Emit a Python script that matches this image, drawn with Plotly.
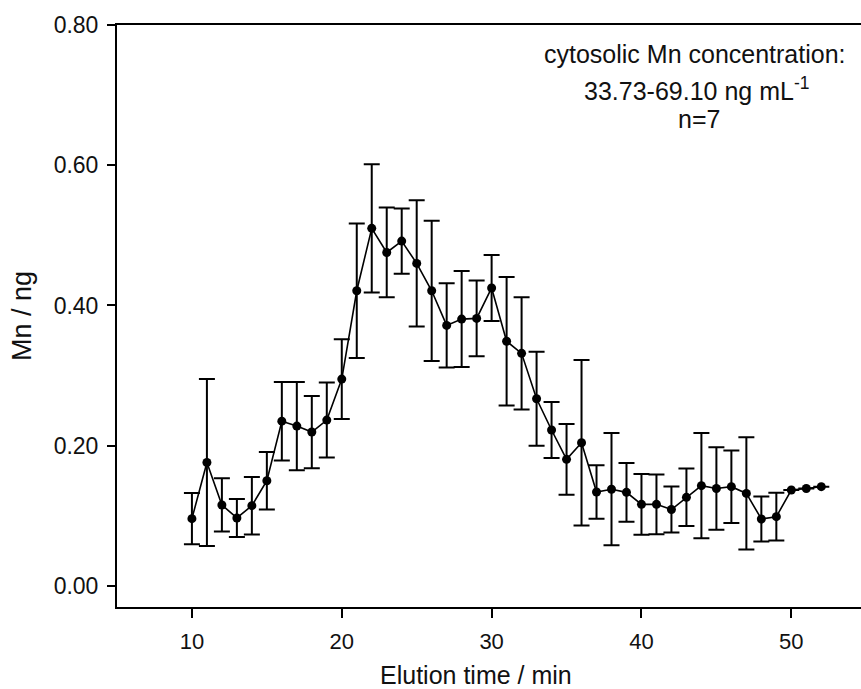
import plotly.graph_objects as go

# Elution time (min)
time_min = list(range(10, 53))
# Mean Mn (ng)
mn_mean = [0.096, 0.176, 0.1155, 0.097, 0.1145, 0.150, 0.235, 0.228, 0.2195, 0.2366,
           0.295, 0.421, 0.510, 0.4756, 0.4918, 0.460, 0.421, 0.3716, 0.3806, 0.3816,
           0.425, 0.349, 0.3317, 0.267, 0.2224, 0.1806, 0.2043, 0.134, 0.138, 0.1335,
           0.1164, 0.1164, 0.109, 0.1264, 0.143, 0.139, 0.1416, 0.132, 0.0955, 0.0988,
           0.1368, 0.139, 0.1416]
# Standard deviation (ng); None = no error bar
mn_sd = [0.0365, 0.119, 0.038, 0.027, 0.041, 0.041, 0.056, 0.063, 0.0515, 0.0535,
         0.057, 0.096, 0.0915, 0.064, 0.0465, 0.090, 0.100, 0.060, 0.0685, 0.054,
         0.047, 0.0915, 0.080, 0.067, 0.040, 0.0504, 0.118, 0.038, 0.080, 0.042,
         0.0433, 0.0425, 0.0328, 0.041, 0.075, 0.059, 0.0517, 0.080, 0.032, 0.034,
         None, None, None]

x_ticks = [10, 20, 30, 40, 50]
y_ticks = [0.0, 0.2, 0.4, 0.6, 0.8]
y_tick_labels = ["0.00", "0.20", "0.40", "0.60", "0.80"]

font_family = "Liberation Sans, Arial, sans-serif"

W, H = 861, 689
L, R, T, B = 117, 0, 25, 82
pw, ph = W - L - R, H - T - B


def px_to_paper(px, py):
    return (px - L) / pw, 1 - (py - T) / ph


fig = go.Figure()
fig.add_trace(go.Scatter(
    x=time_min, y=mn_mean,
    mode="lines+markers",
    line=dict(color="black", width=1.6),
    marker=dict(color="black", size=9),
    error_y=dict(type="data", array=mn_sd, visible=True,
                 color="black", thickness=2, width=8),
    showlegend=False,
))

notes = [("cytosolic Mn concentration:", 695, 54, 25),
         ("33.73-69.10 ng mL<sup>-1</sup>", 696, 89, 25),
         ("n=7", 699, 119, 25),
         ("Elution time / min", 476, 675, 25)]
for txt, px, py, fs in notes:
    ax_, ay_ = px_to_paper(px, py)
    fig.add_annotation(x=ax_, y=ay_, xref="paper", yref="paper", text=txt,
                       xanchor="center", yanchor="middle",
                       showarrow=False, font=dict(size=fs, color="#111"))

fig.update_layout(
    width=W, height=H,
    margin=dict(l=L, r=R, t=T, b=B),
    paper_bgcolor="white", plot_bgcolor="white",
    font=dict(family=font_family, size=22, color="#111"),
    xaxis=dict(
        range=[5, 54.65], tickvals=x_ticks,
        ticks="outside", ticklen=9, tickwidth=1.5, tickcolor="black",
        showline=True, linecolor="black", linewidth=2, mirror=True,
        showgrid=False, zeroline=False, ticklabelstandoff=5,
        tickfont=dict(size=22),
    ),
    yaxis=dict(
        range=[-0.03, 0.80], tickvals=y_ticks, ticktext=y_tick_labels,
        ticks="outside", ticklen=8, tickwidth=1.5, tickcolor="black",
        showline=True, linecolor="black", linewidth=2,
        showgrid=False, zeroline=False, ticklabelstandoff=4,
        title=dict(text="Mn / ng", font=dict(size=27), standoff=14),
        tickfont=dict(size=23),
    ),
)

fig.write_html("out.html", config={"displayModeBar": False},
               post_script="document.body.style.margin='0';document.body.style.overflow='hidden';")
